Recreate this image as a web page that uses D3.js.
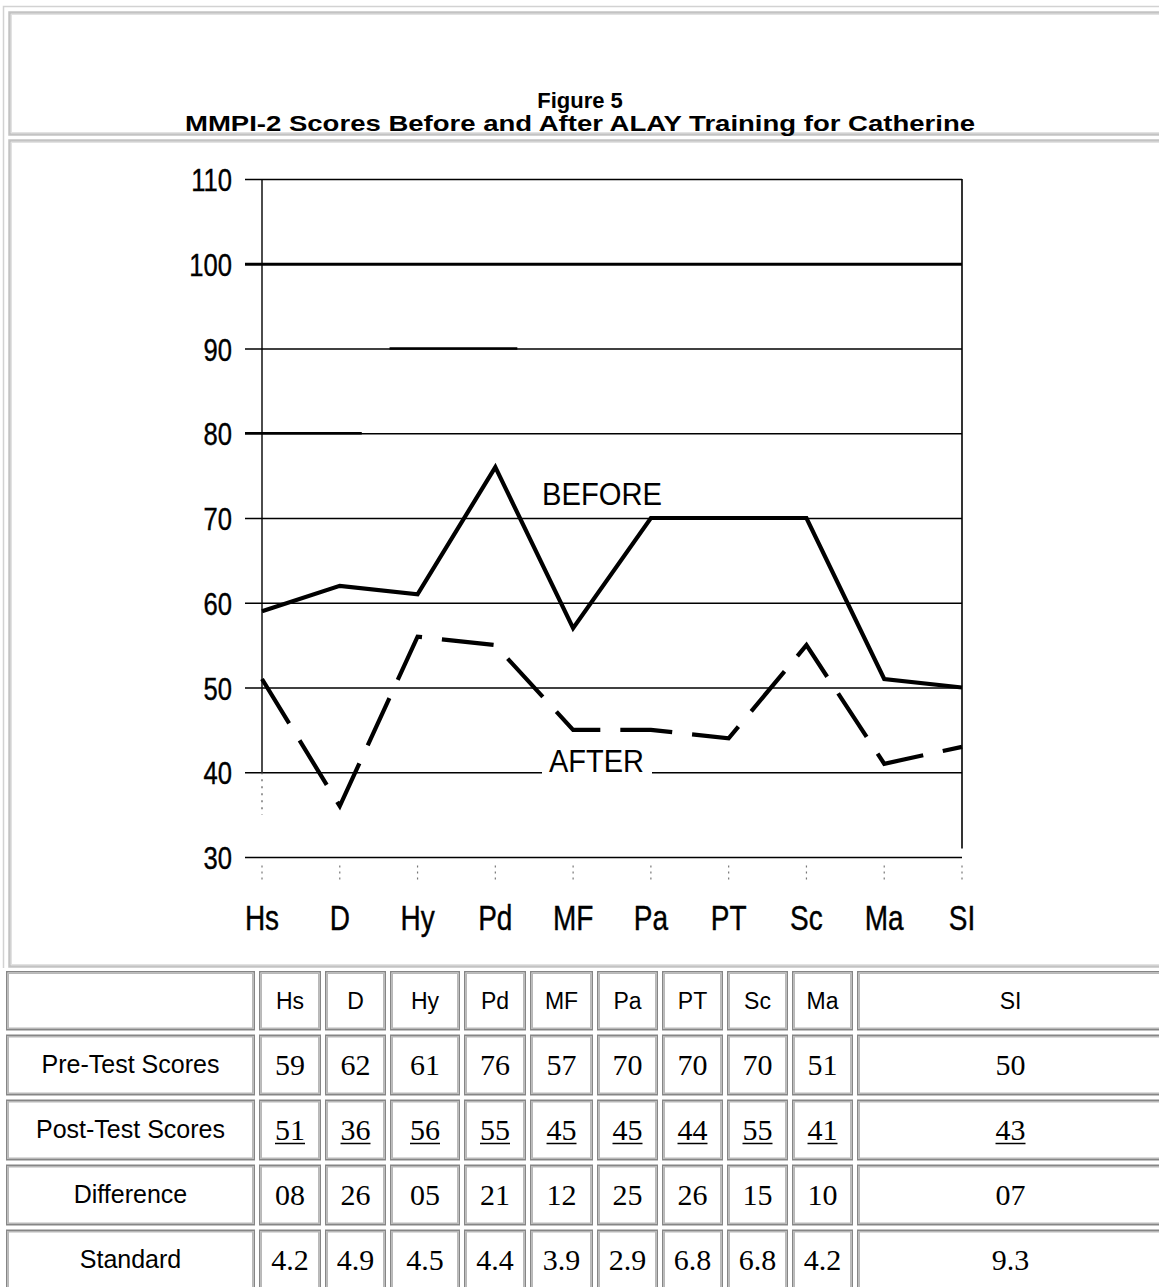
<!DOCTYPE html>
<html><head><meta charset="utf-8">
<script src="https://cdn.jsdelivr.net/npm/d3@7"></script>
<style>html,body{margin:0;padding:0;background:#fff;overflow:hidden}</style>
</head><body>
<svg id="c" width="1159" height="1287"></svg>
<script>
// ---- data ----
const categories = ["Hs","D","Hy","Pd","MF","Pa","PT","Sc","Ma","SI"];
const beforeScores = [59,62,61,76,57,70,70,70,51,50];
const afterScores  = [51,36,56,55,45,45,44,55,41,43];
const differences  = ["08","26","05","21","12","25","26","15","10","07"];
const standardValues = ["4.2","4.9","4.5","4.4","3.9","2.9","6.8","6.8","4.2","9.3"];
const yTicks = [30,40,50,60,70,80,90,100,110];
const rowLabels = ["Pre-Test Scores","Post-Test Scores","Difference","Standard"];
const titleLines = ["Figure 5","MMPI-2 Scores Before and After ALAY Training for Catherine"];
const seriesLabels = ["BEFORE","AFTER"];

// ---- layout ----
const svg = d3.select("#c");
const SANS = "'Liberation Sans', Arial, sans-serif";
const SERIF = "'Liberation Serif', 'Times New Roman', serif";
const SQX = 0.8; // horizontal squeeze of the scanned chart lettering

// outer frame
svg.append("path").attr("d","M3.5,968V6.5H1159").attr("fill","none")
  .attr("stroke","#d2d2d2").attr("stroke-width",1.5);
function frame(x,y,w,h,dark,light){
  svg.append("rect").attr("x",x).attr("y",y).attr("width",w).attr("height",h)
    .attr("fill","none").attr("stroke",dark).attr("stroke-width",2.5);
  svg.append("rect").attr("x",x+2).attr("y",y+2).attr("width",w-4).attr("height",h-4)
    .attr("fill","none").attr("stroke",light).attr("stroke-width",1);
}
frame(9.5,12.5,1170,122,"#c3c3c3","#e2e2e2");
frame(9.5,140.5,1170,826,"#c3c3c3","#e2e2e2");

// title
const tt = svg.append("g").selectAll("text").data(titleLines).join("text")
  .attr("x",580).attr("y",(d,i)=>i===0?108:131)
  .attr("text-anchor","middle").attr("font-family",SANS).attr("font-weight","bold")
  .attr("font-size",22).attr("fill","#000").text(d=>d);
tt.filter((d,i)=>i===1).attr("textLength",790).attr("lengthAdjust","spacingAndGlyphs");

// ---- chart ----
const x = d3.scalePoint().domain(categories).range([262,962]);
const y = d3.scaleLinear().domain([30,110]).range([857,179]);
const gridLeft = 245, gridRight = 962;

const yAxis = d3.axisLeft(y).tickValues(yTicks).tickSize(-(gridRight-gridLeft)).tickPadding(13);
const gy = svg.append("g").attr("transform",`translate(${gridLeft},0)`).call(yAxis);
gy.select(".domain").remove();
gy.selectAll(".tick line").attr("stroke","#000").attr("stroke-width",d=>d===100?3:1.4);
gy.selectAll(".tick text").attr("font-family",SANS).attr("font-size",32)
  .attr("fill","#000").attr("stroke","#000").attr("stroke-width",0.4).attr("dy","0.36em")
  .attr("x",-13/SQX).attr("transform",`scale(${SQX},1)`);

// heavier scan segments on a few gridlines
const heavy = [{v:80, a:"Hs", b:"D", pa:-17, pb:22},{v:90, a:"Hy", b:"Pd", pa:-28, pb:22}];
svg.append("g").selectAll("line").data(heavy).join("line")
  .attr("x1",d=>x(d.a)+d.pa).attr("x2",d=>x(d.b)+d.pb).attr("y1",d=>y(d.v)).attr("y2",d=>y(d.v))
  .attr("stroke","#000").attr("stroke-width",2.6);

// vertical axes
svg.append("line").attr("x1",x("Hs")).attr("x2",x("Hs")).attr("y1",y(110)).attr("y2",y(40))
  .attr("stroke","#000").attr("stroke-width",1.4);
svg.append("line").attr("x1",x("Hs")).attr("x2",x("Hs")).attr("y1",y(40)).attr("y2",y(35))
  .attr("stroke","#555").attr("stroke-width",1.2).attr("stroke-dasharray","2,5");
svg.append("line").attr("x1",x("SI")).attr("x2",x("SI")).attr("y1",y(110)).attr("y2",y(31))
  .attr("stroke","#000").attr("stroke-width",1.6);

// small tick marks under the 30 line
svg.append("g").selectAll("line").data(categories).join("line")
  .attr("x1",d=>x(d)).attr("x2",d=>x(d)).attr("y1",y(29)).attr("y2",y(27.3))
  .attr("stroke","#777").attr("stroke-width",1.2).attr("stroke-dasharray","2,4");

// x labels
svg.append("g").selectAll("text").data(categories).join("text")
  .attr("x",d=>x(d)/SQX).attr("y",930).attr("text-anchor","middle")
  .attr("transform",`scale(${SQX},1)`)
  .attr("font-family",SANS).attr("font-size",35).attr("fill","#000")
  .attr("stroke","#000").attr("stroke-width",0.4).text(d=>d);

// AFTER label (with gap in gridline)
svg.append("rect").attr("x",542).attr("y",y(43)).attr("width",110).attr("height",y(39)-y(43)).attr("fill","#fff");
svg.append("text").attr("x",549).attr("y",y(40)).attr("font-family",SANS).attr("font-size",32)
  .attr("textLength",95).attr("lengthAdjust","spacingAndGlyphs").attr("fill","#000").text(seriesLabels[1]);
svg.append("text").attr("x",542).attr("y",y(71.5)).attr("font-family",SANS).attr("font-size",32)
  .attr("textLength",120).attr("lengthAdjust","spacingAndGlyphs").attr("fill","#000").text(seriesLabels[0]);

// lines
const line = d3.line().x((d,i)=>x(categories[i])).y(d=>y(d));
svg.append("path").datum(beforeScores).attr("d",line).attr("fill","none")
  .attr("stroke","#000").attr("stroke-width",4.2).attr("stroke-linejoin","miter");
svg.append("path").datum(afterScores).attr("d",line).attr("fill","none")
  .attr("stroke","#000").attr("stroke-width",4.2).attr("stroke-dasharray","52,20");

// ---- data table ----
const colEdges = [4,257,323,388,462,528,595,660,725,790,855,1166];
const rowEdges = [969,1032.5,1097.5,1162.5,1227.5,1292.5];
const tableRows = [
  {label:"", vals:categories, kind:"head"},
  {label:rowLabels[0], vals:beforeScores.map(String), kind:"num"},
  {label:rowLabels[1], vals:afterScores.map(String), kind:"under"},
  {label:rowLabels[2], vals:differences, kind:"num"},
  {label:rowLabels[3], vals:standardValues, kind:"num"}
];
const tg = svg.append("g");
tableRows.forEach((row,r)=>{
  const y0 = rowEdges[r]+2, y1 = rowEdges[r+1]-2, cy=(y0+y1)/2;
  for(let c=0;c<11;c++){
    const x0 = colEdges[c]+2, x1 = colEdges[c+1]-2;
    tg.append("rect").attr("x",x0+0.75).attr("y",y0+0.75).attr("width",x1-x0-1.5).attr("height",y1-y0-1.5)
      .attr("fill","#fff").attr("stroke","#868686").attr("stroke-width",1.5);
    tg.append("rect").attr("x",x0+2.25).attr("y",y0+2.25).attr("width",x1-x0-4.5).attr("height",y1-y0-4.5)
      .attr("fill","none").attr("stroke","#b8b8b8").attr("stroke-width",1.5);
    const cx=(x0+x1)/2;
    if(c===0){
      if(row.label) tg.append("text").attr("x",cx).attr("y",cy+8).attr("text-anchor","middle")
        .attr("font-family",SANS).attr("font-size",25).text(row.label);
    } else {
      const v=row.vals[c-1];
      if(row.kind==="head"){
        tg.append("text").attr("x",cx).attr("y",cy+8).attr("text-anchor","middle")
          .attr("font-family",SANS).attr("font-size",23).text(v);
      } else {
        const t=tg.append("text").attr("x",cx).attr("y",cy+10).attr("text-anchor","middle")
          .attr("font-family",SERIF).attr("font-size",30).text(v);
        if(row.kind==="under"){
          const w=t.node().getComputedTextLength();
          tg.append("line").attr("x1",cx-w/2).attr("x2",cx+w/2).attr("y1",cy+13.5).attr("y2",cy+13.5)
            .attr("stroke","#000").attr("stroke-width",1.5);
        }
      }
    }
  }
});
</script>
</body></html>
